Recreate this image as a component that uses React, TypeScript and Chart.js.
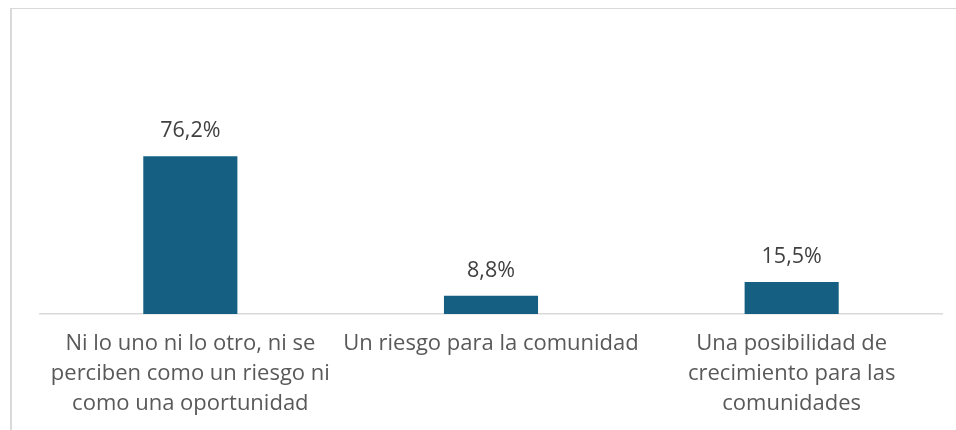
import React, { useEffect, useRef } from "react";
import { Chart, registerables } from "chart.js";

Chart.register(...registerables);

const categories: string[][] = [
  ["Ni lo uno ni lo otro, ni se", "perciben como un riesgo ni", "como una oportunidad"],
  ["Un riesgo para la comunidad"],
  ["Una posibilidad de", "crecimiento para las", "comunidades"],
];
const values: number[] = [76.2, 8.8, 15.5];
const valueLabels: string[] = ["76,2%", "8,8%", "15,5%"];

const FONT = "'Open Sans', 'DejaVu Sans', sans-serif";

const labelPlugin = {
  id: "valueLabels",
  afterDatasetsDraw(chart: any) {
    const ctx = chart.ctx;
    const meta = chart.getDatasetMeta(0);
    ctx.save();
    ctx.font = `21.5px ${FONT}`;
    ctx.fillStyle = "#404040";
    ctx.textAlign = "center";
    ctx.textBaseline = "alphabetic";
    meta.data.forEach((bar: any, i: number) => {
      ctx.fillText(valueLabels[i], bar.x, bar.y - 19);
    });
    ctx.restore();
  },
};

export default function App() {
  const ref = useRef<HTMLCanvasElement>(null);
  useEffect(() => {
    if (!ref.current) return;
    const chart = new Chart(ref.current, {
      type: "bar",
      data: {
        labels: categories,
        datasets: [
          {
            data: values,
            backgroundColor: "#156082",
            borderWidth: 0,
            categoryPercentage: 1,
            barPercentage: 0.313,
          },
        ],
      },
      options: {
        animation: false,
        responsive: false,
        maintainAspectRatio: false,
        layout: { padding: { left: 28, right: 14, top: 98, bottom: 4 } },
        plugins: { legend: { display: false }, tooltip: { enabled: false } },
        scales: {
          x: {
            grid: { display: false },
            border: { display: true, color: "#d9d9d9", width: 1.5 },
            ticks: {
              autoSkip: false,
              maxRotation: 0,
              minRotation: 0,
              padding: 7,
              color: "#595959",
              font: { family: FONT, size: 22, lineHeight: 1.3636 },
            },
          },
          y: {
            display: false,
            min: 0,
            max: 100,
          },
        },
      },
      plugins: [labelPlugin],
    });
    return () => chart.destroy();
  }, []);

  return (
    <div
      style={{
        position: "fixed",
        left: 10,
        top: 8,
        right: 0,
        bottom: 0,
        borderLeft: "2px solid #d9d9d9",
        borderTop: "1px solid #d9d9d9",
        background: "#fff",
        overflow: "hidden",
      }}
    >
      <canvas ref={ref} width={944} height={421} style={{ display: "block" }} />
    </div>
  );
}
